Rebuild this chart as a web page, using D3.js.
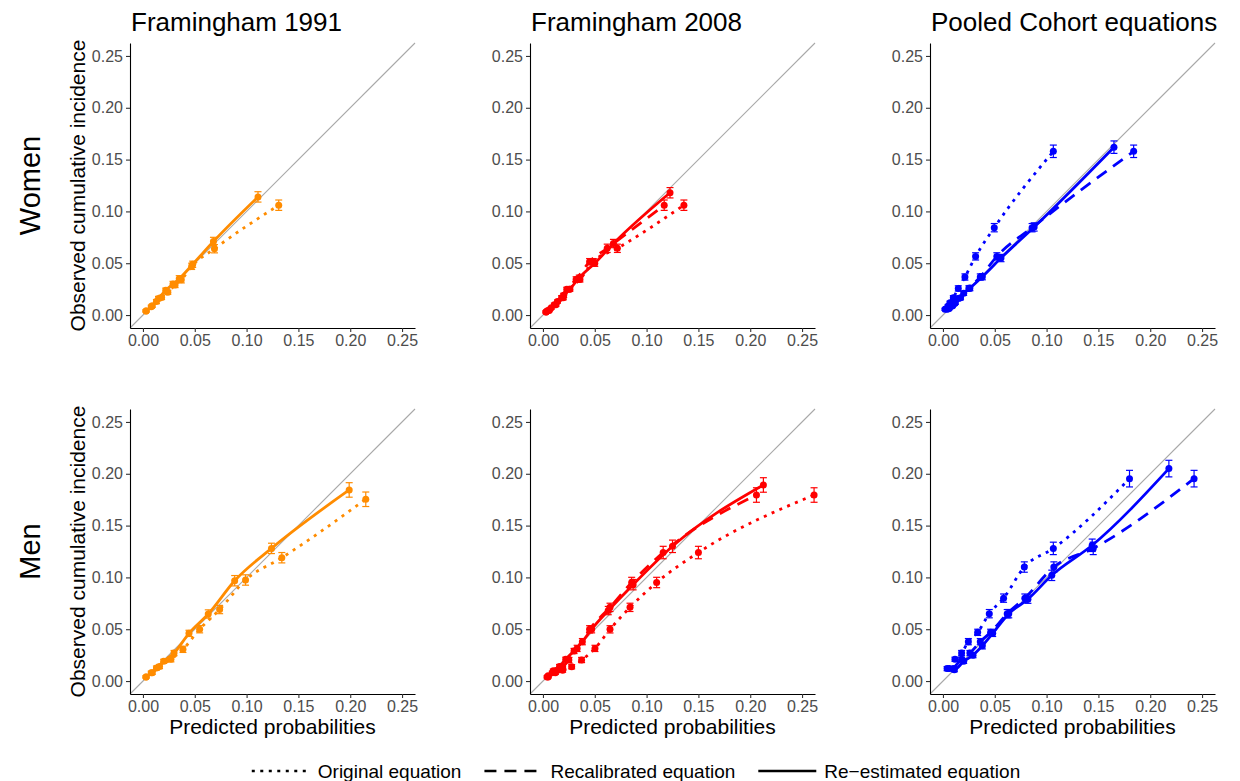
<!DOCTYPE html>
<html>
<head>
<meta charset="utf-8">
<script src="https://cdn.jsdelivr.net/npm/d3@7"></script>
<style>
  body { margin: 0; background: #fff; }
  svg { display: block; font-family: Arial, "Liberation Sans", sans-serif; }
</style>
</head>
<body>
<div id="chart"></div>
<script>
// each point: [predicted probability, observed cumulative incidence, half width of error bar]
const womenF91Orig = [[0.003,0.004,0.001],[0.008,0.008,0.0015],[0.013,0.013,0.002],[0.018,0.017,0.002],[0.024,0.022,0.002],[0.031,0.029,0.0025],[0.037,0.034,0.003],[0.047,0.047,0.003],[0.069,0.064,0.004],[0.131,0.106,0.005]];
const womenF91Recal = [];
const womenF91Reest = [[0.003,0.004,0.001],[0.009,0.009,0.0015],[0.015,0.016,0.002],[0.022,0.024,0.002],[0.029,0.030,0.0025],[0.035,0.035,0.003],[0.048,0.049,0.003],[0.068,0.071,0.004],[0.111,0.114,0.005]];

const womenF08Orig = [[0.003,0.003,0.001],[0.006,0.0045,0.0012],[0.0125,0.010,0.0015],[0.0196,0.0167,0.002],[0.0254,0.0248,0.002],[0.0357,0.0344,0.0025],[0.0486,0.0515,0.003],[0.0718,0.0644,0.004],[0.136,0.106,0.005]];
const womenF08Recal = [[0.003,0.003,0.001],[0.005,0.0045,0.0012],[0.011,0.010,0.0015],[0.018,0.0167,0.002],[0.023,0.0248,0.002],[0.032,0.0344,0.0025],[0.045,0.0515,0.003],[0.062,0.0644,0.004],[0.117,0.106,0.005]];
const womenF08Reest = [[0.004,0.004,0.001],[0.008,0.007,0.0012],[0.014,0.013,0.0015],[0.020,0.019,0.002],[0.026,0.025,0.002],[0.035,0.036,0.0025],[0.050,0.050,0.003],[0.068,0.069,0.004],[0.1226,0.118,0.005]];

const womenPceOrig = [[0.002,0.0055,0.001],[0.0035,0.0064,0.0012],[0.005,0.0087,0.0015],[0.0068,0.0119,0.0015],[0.010,0.0167,0.002],[0.0148,0.0257,0.0025],[0.0212,0.0367,0.003],[0.0315,0.0566,0.0035],[0.0495,0.0843,0.004],[0.1065,0.158,0.006]];
const womenPceRecal = [[0.004,0.0055,0.001],[0.006,0.0064,0.0012],[0.009,0.0087,0.0015],[0.012,0.0119,0.0015],[0.017,0.0167,0.002],[0.025,0.0257,0.0025],[0.036,0.0367,0.003],[0.052,0.0566,0.0035],[0.086,0.0843,0.004],[0.184,0.158,0.006]];
const womenPceReest = [[0.005,0.006,0.001],[0.008,0.009,0.0012],[0.011,0.011,0.0015],[0.015,0.016,0.0015],[0.020,0.021,0.002],[0.026,0.026,0.0025],[0.038,0.037,0.003],[0.056,0.055,0.0035],[0.088,0.085,0.004],[0.165,0.162,0.006]];

const menF91Orig = [[0.003,0.004,0.001],[0.009,0.008,0.0015],[0.016,0.014,0.002],[0.027,0.021,0.0025],[0.0386,0.0306,0.003],[0.0547,0.050,0.0035],[0.074,0.069,0.004],[0.099,0.0975,0.005],[0.134,0.119,0.005],[0.215,0.1754,0.007]];
const menF91Recal = [];
const menF91Reest = [[0.003,0.004,0.001],[0.008,0.008,0.0015],[0.013,0.0125,0.002],[0.020,0.019,0.002],[0.030,0.027,0.0025],[0.0444,0.046,0.003],[0.063,0.0647,0.004],[0.0885,0.0968,0.005],[0.124,0.128,0.005],[0.199,0.1844,0.007]];

const menF08Orig = [[0.005,0.004,0.001],[0.012,0.008,0.0015],[0.019,0.0105,0.002],[0.0277,0.0138,0.002],[0.0373,0.0203,0.0025],[0.0502,0.0315,0.003],[0.0647,0.0499,0.0035],[0.084,0.0711,0.004],[0.1097,0.0951,0.005],[0.150,0.124,0.006],[0.2616,0.1795,0.007]];
const menF08Recal = [[0.004,0.004,0.001],[0.009,0.008,0.0015],[0.014,0.0105,0.002],[0.019,0.0138,0.002],[0.025,0.0203,0.0025],[0.033,0.0315,0.003],[0.045,0.0499,0.0035],[0.0647,0.0711,0.004],[0.0856,0.0951,0.005],[0.116,0.124,0.006],[0.206,0.1795,0.007]];
const menF08Reest = [[0.005,0.005,0.001],[0.010,0.010,0.0015],[0.016,0.014,0.002],[0.022,0.021,0.002],[0.030,0.029,0.0025],[0.038,0.038,0.003],[0.047,0.050,0.0035],[0.063,0.068,0.004],[0.087,0.093,0.005],[0.125,0.130,0.006],[0.2127,0.1892,0.007]];

const menPceOrig = [[0.006,0.012,0.002],[0.0116,0.021,0.002],[0.018,0.027,0.0025],[0.0245,0.038,0.003],[0.0335,0.047,0.003],[0.0447,0.065,0.004],[0.0585,0.080,0.004],[0.0785,0.110,0.005],[0.1065,0.128,0.006],[0.180,0.1953,0.008]];
const menPceRecal = [[0.010,0.012,0.002],[0.018,0.021,0.002],[0.026,0.027,0.0025],[0.036,0.038,0.003],[0.046,0.047,0.003],[0.062,0.065,0.004],[0.079,0.080,0.004],[0.107,0.110,0.005],[0.145,0.128,0.006],[0.2423,0.1953,0.008]];
const menPceReest = [[0.004,0.012,0.002],[0.011,0.011,0.002],[0.020,0.019,0.002],[0.029,0.025,0.0025],[0.038,0.034,0.003],[0.048,0.046,0.003],[0.0635,0.065,0.004],[0.082,0.079,0.004],[0.105,0.102,0.005],[0.144,0.131,0.006],[0.218,0.205,0.008]];

const columns = ["Framingham 1991", "Framingham 2008", "Pooled Cohort equations"];
const rows = ["Women", "Men"];
const colours = ["#FF8C00", "#FF0000", "#0000FF"];
const tickValues = [0, 0.05, 0.10, 0.15, 0.20, 0.25];
const legendLabels = ["Original equation", "Recalibrated equation", "Re\u2212estimated equation"];

const panels = [
  [[womenF91Orig, womenF91Recal, womenF91Reest], [womenF08Orig, womenF08Recal, womenF08Reest], [womenPceOrig, womenPceRecal, womenPceReest]],
  [[menF91Orig, menF91Recal, menF91Reest], [menF08Orig, menF08Recal, menF08Reest], [menPceOrig, menPceRecal, menPceReest]]
];

const width = 1240;
const height = 781;
const colLeft = [130, 530, 930];
const rowTop = [43, 409];
const size = 285;
const dashes = ["3,5.5", "12,8", null];

const svg = d3.select('#chart')
    .append('svg')
    .attr('width', width)
    .attr('height', height);

svg.append('rect').attr('width', width).attr('height', height).attr('fill', '#fff');

const x = d3.scaleLinear().domain([-0.0125, 0.2625]).range([0, size]);
const y = d3.scaleLinear().domain([-0.0125, 0.2625]).range([size, 0]);

const line = d3.line()
    .curve(d3.curveMonotoneX)
    .x(d => x(d[0]))
    .y(d => y(d[1]));

function styleAxis(g) {
    g.select('.domain').attr('stroke', '#000').attr('stroke-width', 1.1);
    g.selectAll('.tick line').attr('stroke', '#333').attr('stroke-width', 1.1);
    g.selectAll('.tick text')
        .attr('fill', '#4d4d4d')
        .attr('font-size', '16px')
        .attr('font-family', 'Arial, "Liberation Sans", sans-serif');
}

rows.forEach((rowName, r) => {
    columns.forEach((colName, c) => {
        const g = svg.append('g')
            .attr('transform', `translate(${colLeft[c]},${rowTop[r]})`);

        // identity line
        g.append('line')
            .attr('x1', x(-0.0125)).attr('y1', y(-0.0125))
            .attr('x2', x(0.2625)).attr('y2', y(0.2625))
            .attr('stroke', '#a8a8a8')
            .attr('stroke-width', 1.1);

        const series = panels[r][c];
        const colour = colours[c];

        series.forEach((pts, s) => {
            if (!pts.length) return;
            g.append('path')
                .datum(pts)
                .attr('d', line)
                .attr('fill', 'none')
                .attr('stroke', colour)
                .attr('stroke-width', 2.8)
                .attr('stroke-dasharray', dashes[s]);
        });

        series.forEach(pts => {
            const bars = g.append('g')
                .attr('stroke', colour)
                .attr('stroke-width', 1.2);
            bars.selectAll('line.v')
                .data(pts)
                .join('line')
                .attr('class', 'v')
                .attr('x1', d => x(d[0])).attr('x2', d => x(d[0]))
                .attr('y1', d => y(d[1] - d[2])).attr('y2', d => y(d[1] + d[2]));
            bars.selectAll('line.lo')
                .data(pts)
                .join('line')
                .attr('class', 'lo')
                .attr('x1', d => x(d[0]) - 3.5).attr('x2', d => x(d[0]) + 3.5)
                .attr('y1', d => y(d[1] - d[2])).attr('y2', d => y(d[1] - d[2]));
            bars.selectAll('line.hi')
                .data(pts)
                .join('line')
                .attr('class', 'hi')
                .attr('x1', d => x(d[0]) - 3.5).attr('x2', d => x(d[0]) + 3.5)
                .attr('y1', d => y(d[1] + d[2])).attr('y2', d => y(d[1] + d[2]));

            g.append('g')
                .attr('fill', colour)
                .selectAll('circle')
                .data(pts)
                .join('circle')
                .attr('cx', d => x(d[0]))
                .attr('cy', d => y(d[1]))
                .attr('r', 3.5);
        });

        g.append('g')
            .call(d3.axisLeft(y).tickValues(tickValues).tickFormat(d3.format('.2f')).tickSize(4).tickSizeOuter(0).tickPadding(3))
            .call(styleAxis);

        g.append('g')
            .attr('transform', `translate(0,${size})`)
            .call(d3.axisBottom(x).tickValues(tickValues).tickFormat(d3.format('.2f')).tickSize(4).tickSizeOuter(0).tickPadding(3))
            .call(styleAxis);

        if (r === 0) {
            g.append('text')
                .attr('x', 1)
                .attr('y', -12)
                .attr('font-size', '26px')
                .attr('fill', '#000')
                .text(colName);
        }

        if (c === 0) {
            g.append('text')
                .attr('transform', `translate(-52,${size / 2}) rotate(-90)`)
                .attr('text-anchor', 'middle')
                .attr('dy', '0.35em')
                .attr('font-size', '21px')
                .attr('fill', '#000')
                .text('Observed cumulative incidence');
        }

        if (r === 1) {
            g.append('text')
                .attr('x', size / 2)
                .attr('y', size + 40)
                .attr('text-anchor', 'middle')
                .attr('font-size', '21px')
                .attr('fill', '#000')
                .text('Predicted probabilities');
        }
    });

    svg.append('text')
        .attr('transform', `translate(30,${rowTop[r] + size / 2}) rotate(-90)`)
        .attr('text-anchor', 'middle')
        .attr('dy', '0.35em')
        .attr('font-size', '29px')
        .attr('fill', '#000')
        .text(rowName);
});

// legend
const legend = svg.append('g');
let cursor = 0;
legendLabels.forEach((label, i) => {
    const item = legend.append('g').attr('transform', `translate(${cursor},0)`);
    item.append('line')
        .attr('x1', 0).attr('x2', 58)
        .attr('y1', 0).attr('y2', 0)
        .attr('stroke', '#000')
        .attr('stroke-width', 2.6)
        .attr('stroke-dasharray', dashes[i]);
    const t = item.append('text')
        .attr('x', 66)
        .attr('dy', '0.35em')
        .attr('font-size', '19px')
        .attr('fill', '#000')
        .text(label);
    cursor += 66 + t.node().getComputedTextLength() + 23;
});
const legendWidth = cursor - 23;
legend.attr('transform', `translate(${(636 - legendWidth / 2)},771)`);
</script>
</body>
</html>
